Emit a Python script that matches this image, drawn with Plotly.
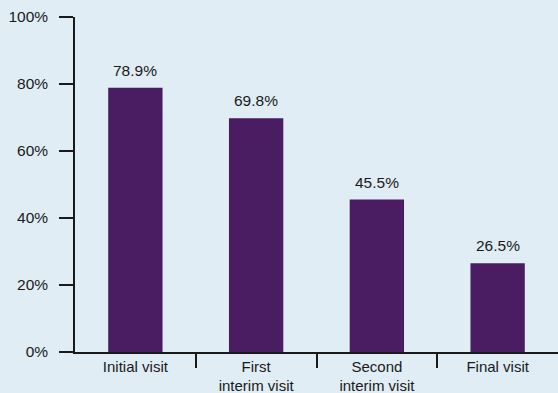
import plotly.graph_objects as go

categories = ["Initial visit", "First<br>interim visit", "Second<br>interim visit", "Final visit"]
values = [78.9, 69.8, 45.5, 26.5]
value_labels = ["78.9%", "69.8%", "45.5%", "26.5%"]
y_ticks = [0, 20, 40, 60, 80, 100]
y_tick_labels = ["0%", "20%", "40%", "60%", "80%", "100%"]

bg = "#E0EDF5"
bar_color = "#4A1C62"
ink = "#1a1a1a"
font_family = "Liberation Sans, Arial, sans-serif"
fsize = 15.5

positions = list(range(len(categories)))
boundaries = [p + 0.5 for p in positions[:-1]]

fig = go.Figure()
fig.add_trace(go.Bar(x=positions, y=values, marker_color=bar_color, width=0.45,
                     marker_line_width=0, hoverinfo="skip"))
# invisible trace on the secondary axis so it is drawn
fig.add_trace(go.Scatter(x=[positions[0]], y=[values[0]], xaxis="x2", mode="markers",
                         marker=dict(opacity=0), hoverinfo="skip"))

for p, v, t in zip(positions, values, value_labels):
    fig.add_annotation(x=p, y=v, text=t, showarrow=False, yanchor="bottom",
                       yshift=7, font=dict(size=fsize, color=ink, family=font_family))

fig.update_layout(
    width=558, height=393,
    margin=dict(l=75, r=0, t=17, b=41, autoexpand=False),
    paper_bgcolor=bg, plot_bgcolor=bg,
    showlegend=False,
    font=dict(family=font_family, size=fsize, color=ink),
    xaxis=dict(
        range=[-0.5, 3.5], tickvals=positions, ticktext=categories,
        showline=True, linecolor=ink, linewidth=1.5,
        ticks="", showgrid=False, zeroline=False, automargin=False,
        ticklabelstandoff=0,
        tickfont=dict(size=15, color=ink),
    ),
    xaxis2=dict(
        range=[-0.5, 3.5], overlaying="x", side="bottom", anchor="y",
        tickvals=boundaries, showticklabels=False, automargin=False,
        ticks="outside", ticklen=15, tickcolor=ink, tickwidth=1.5,
        showline=False, showgrid=False, zeroline=False,
    ),
    yaxis=dict(
        range=[0, 100], tickvals=y_ticks, ticktext=y_tick_labels,
        showline=True, linecolor=ink, linewidth=1.5,
        ticks="outside", ticklen=14, tickcolor=ink, tickwidth=1.5,
        showgrid=False, zeroline=False, automargin=False,
        ticklabelstandoff=8,
        tickfont=dict(size=fsize, color=ink),
    ),
)

fig.write_html("out.html")
